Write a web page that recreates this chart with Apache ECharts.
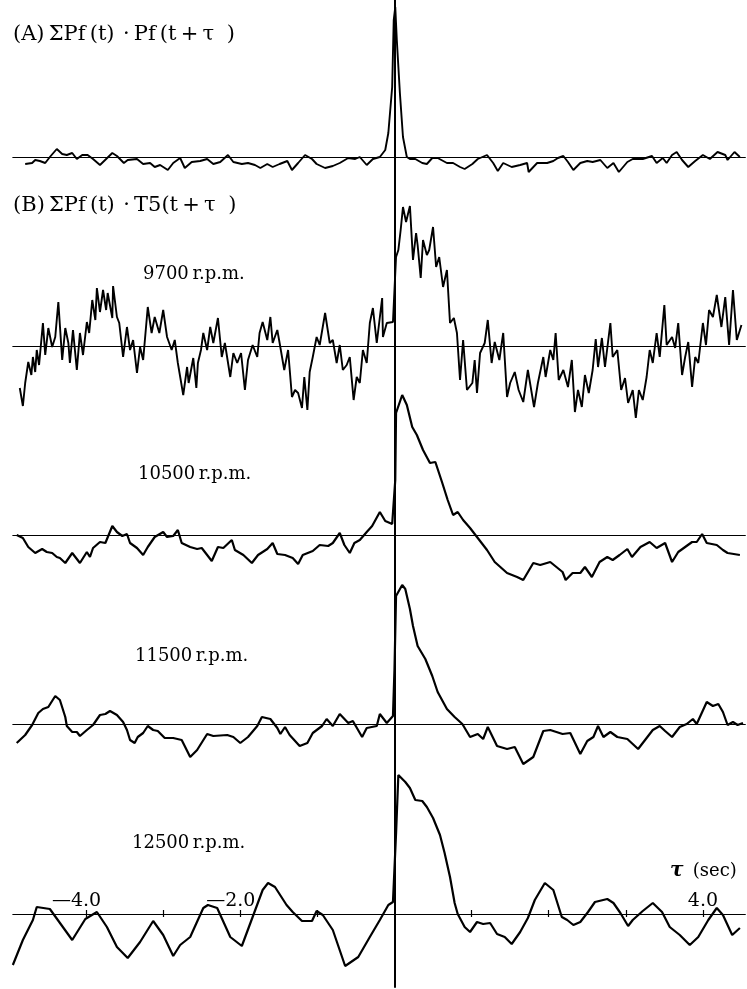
<!DOCTYPE html>
<html>
<head>
<meta charset="utf-8">
<script src="https://cdn.jsdelivr.net/npm/echarts@6/dist/echarts.min.js"></script>
<style>
html, body { margin: 0; padding: 0; background: #fff; }
#chart { width: 747px; height: 989px; }
</style>
</head>
<body>
<div id="chart"></div>
<script>
// tau (sec), correlation (arbitrary units)
const autoPf = [[-4.79,-7],[-4.70,-6],[-4.66,-3],[-4.60,-4],[-4.53,-6],[-4.47,0],[-4.38,8],[-4.31,3],[-4.25,2],[-4.18,4],[-4.12,-2],[-4.05,2],[-3.98,2],[-3.91,-2],[-3.82,-8],[-3.74,-2],[-3.66,4],[-3.60,1],[-3.51,-6],[-3.46,-3],[-3.34,-2],[-3.26,-7],[-3.17,-6],[-3.11,-10],[-3.04,-8],[-2.94,-13],[-2.87,-6],[-2.78,-1],[-2.72,-11],[-2.63,-5],[-2.52,-4],[-2.43,-2],[-2.35,-7],[-2.26,-5],[-2.16,2],[-2.09,-5],[-1.98,-7],[-1.90,-6],[-1.81,-8],[-1.74,-11],[-1.65,-7],[-1.58,-10],[-1.49,-7],[-1.39,-4],[-1.33,-13],[-1.25,-6],[-1.16,2],[-1.07,-2],[-1.01,-7],[-0.90,-11],[-0.80,-9],[-0.71,-6],[-0.60,-1],[-0.51,-2],[-0.45,0],[-0.36,-8],[-0.28,-2],[-0.19,0],[-0.12,7],[-0.08,24],[-0.03,70],[-0.01,137],[0.01,150],[0.03,117],[0.07,64],[0.11,20],[0.16,0],[0.20,-2],[0.27,-2],[0.36,-6],[0.42,-7],[0.49,-1],[0.56,-1],[0.68,-6],[0.76,-6],[0.85,-10],[0.91,-12],[1.01,-7],[1.08,-2],[1.20,2],[1.28,-6],[1.34,-14],[1.41,-6],[1.52,-10],[1.63,-8],[1.72,-6],[1.74,-15],[1.85,-6],[1.98,-6],[2.06,-4],[2.12,-1],[2.19,1],[2.25,-5],[2.32,-13],[2.41,-6],[2.50,-4],[2.57,-5],[2.67,-3],[2.76,-11],[2.84,-6],[2.91,-15],[3.02,-5],[3.09,-2],[3.22,-2],[3.34,1],[3.40,-6],[3.48,-1],[3.53,-6],[3.60,2],[3.66,5],[3.73,-3],[3.81,-10],[3.90,-4],[4.00,2],[4.09,-2],[4.19,5],[4.29,2],[4.32,-3],[4.41,5],[4.48,0]];

const rpm9700 = [[-4.86,-42],[-4.82,-60],[-4.79,-37],[-4.75,-16],[-4.71,-29],[-4.69,-11],[-4.66,-26],[-4.64,-4],[-4.61,-19],[-4.56,23],[-4.53,-9],[-4.49,18],[-4.44,-1],[-4.40,9],[-4.36,44],[-4.31,-14],[-4.27,18],[-4.23,3],[-4.21,-17],[-4.17,16],[-4.12,-24],[-4.08,13],[-4.04,-9],[-3.99,24],[-3.96,13],[-3.92,46],[-3.88,26],[-3.86,58],[-3.82,34],[-3.78,56],[-3.74,36],[-3.72,53],[-3.66,28],[-3.65,60],[-3.60,29],[-3.57,23],[-3.52,-11],[-3.47,19],[-3.43,-4],[-3.39,6],[-3.34,-27],[-3.30,-1],[-3.26,-14],[-3.20,39],[-3.15,13],[-3.11,29],[-3.05,13],[-3.00,36],[-2.95,9],[-2.89,-4],[-2.85,6],[-2.81,-17],[-2.74,-49],[-2.69,-21],[-2.67,-37],[-2.61,-12],[-2.57,-42],[-2.55,-17],[-2.51,-4],[-2.48,13],[-2.43,-4],[-2.39,19],[-2.35,3],[-2.29,28],[-2.24,-11],[-2.20,3],[-2.13,-31],[-2.09,-7],[-2.04,-17],[-1.99,-7],[-1.94,-44],[-1.90,-14],[-1.84,1],[-1.78,-11],[-1.75,13],[-1.71,24],[-1.65,6],[-1.61,29],[-1.58,3],[-1.52,16],[-1.49,3],[-1.43,-24],[-1.38,-4],[-1.33,-51],[-1.29,-44],[-1.25,-47],[-1.20,-62],[-1.17,-31],[-1.13,-64],[-1.10,-26],[-1.06,-11],[-1.01,9],[-0.97,1],[-0.90,33],[-0.84,3],[-0.80,6],[-0.75,-17],[-0.71,1],[-0.67,-24],[-0.62,-19],[-0.58,-11],[-0.53,-54],[-0.49,-31],[-0.45,-37],[-0.41,-4],[-0.36,-17],[-0.32,23],[-0.28,38],[-0.23,3],[-0.16,48],[-0.15,9],[-0.10,23],[-0.02,24],[0.02,89],[0.05,96],[0.08,116],[0.11,139],[0.15,124],[0.20,140],[0.24,86],[0.28,113],[0.30,101],[0.34,68],[0.37,106],[0.42,91],[0.45,96],[0.50,119],[0.54,79],[0.58,89],[0.63,59],[0.68,76],[0.72,23],[0.77,28],[0.81,13],[0.85,-34],[0.89,6],[0.94,-44],[1.01,-37],[1.04,-14],[1.07,-47],[1.11,-7],[1.17,3],[1.21,26],[1.26,-17],[1.30,4],[1.36,-14],[1.41,13],[1.46,-51],[1.50,-37],[1.56,-26],[1.61,-44],[1.67,-56],[1.73,-24],[1.81,-61],[1.86,-37],[1.93,-11],[1.96,-31],[2.02,-4],[2.06,-14],[2.09,13],[2.13,-34],[2.19,-24],[2.25,-41],[2.30,-14],[2.34,-66],[2.38,-44],[2.43,-61],[2.47,-29],[2.52,-47],[2.57,-24],[2.61,7],[2.64,-21],[2.69,8],[2.73,-21],[2.80,23],[2.83,-11],[2.89,-4],[2.94,-44],[2.99,-32],[3.03,-57],[3.09,-44],[3.13,-72],[3.17,-44],[3.22,-54],[3.27,-31],[3.31,-4],[3.35,-17],[3.40,13],[3.44,-11],[3.50,41],[3.53,1],[3.60,9],[3.64,-2],[3.68,23],[3.73,-29],[3.77,-11],[3.81,4],[3.86,-41],[3.90,-11],[3.94,-17],[4.00,23],[4.04,1],[4.08,36],[4.13,29],[4.18,51],[4.24,19],[4.29,49],[4.34,1],[4.39,56],[4.44,6],[4.50,21]];

const rpm10500 = [[-4.90,0],[-4.82,-3],[-4.75,-12],[-4.66,-18],[-4.57,-14],[-4.51,-17],[-4.44,-18],[-4.38,-22],[-4.34,-23],[-4.27,-28],[-4.18,-18],[-4.14,-22],[-4.08,-28],[-3.99,-17],[-3.95,-22],[-3.91,-13],[-3.82,-7],[-3.75,-8],[-3.66,9],[-3.60,3],[-3.53,-1],[-3.47,1],[-3.43,-8],[-3.34,-13],[-3.26,-20],[-3.20,-12],[-3.11,-2],[-3.00,3],[-2.95,-2],[-2.87,-1],[-2.81,5],[-2.76,-8],[-2.65,-12],[-2.56,-14],[-2.50,-13],[-2.46,-17],[-2.37,-26],[-2.29,-12],[-2.22,-13],[-2.11,-5],[-2.07,-15],[-1.96,-20],[-1.85,-28],[-1.77,-20],[-1.65,-14],[-1.58,-8],[-1.52,-19],[-1.42,-20],[-1.32,-23],[-1.25,-29],[-1.19,-20],[-1.06,-16],[-0.97,-10],[-0.86,-11],[-0.80,-8],[-0.71,2],[-0.65,-10],[-0.58,-18],[-0.52,-8],[-0.45,-5],[-0.36,3],[-0.29,9],[-0.19,23],[-0.12,14],[-0.03,11],[0.01,55],[0.02,122],[0.10,140],[0.16,130],[0.23,108],[0.29,100],[0.37,85],[0.46,72],[0.53,73],[0.62,52],[0.69,35],[0.76,20],[0.82,23],[0.89,15],[0.98,7],[1.07,-2],[1.20,-15],[1.30,-27],[1.46,-38],[1.59,-42],[1.67,-45],[1.80,-28],[1.89,-30],[2.02,-27],[2.18,-37],[2.22,-45],[2.31,-38],[2.41,-38],[2.47,-32],[2.56,-42],[2.66,-27],[2.76,-22],[2.83,-25],[2.92,-20],[3.02,-14],[3.08,-22],[3.19,-12],[3.31,-7],[3.40,-13],[3.51,-8],[3.60,-27],[3.68,-17],[3.77,-12],[3.86,-7],[3.92,-7],[3.99,1],[4.05,-8],[4.18,-10],[4.26,-15],[4.32,-18],[4.48,-20]];

const rpm11500 = [[-4.90,-19],[-4.79,-11],[-4.70,-1],[-4.62,11],[-4.56,15],[-4.49,17],[-4.40,28],[-4.34,24],[-4.27,7],[-4.25,-2],[-4.18,-8],[-4.12,-8],[-4.08,-12],[-3.99,-6],[-3.91,-1],[-3.82,9],[-3.75,10],[-3.69,13],[-3.60,9],[-3.52,2],[-3.47,-6],[-3.43,-16],[-3.37,-19],[-3.33,-13],[-3.26,-9],[-3.20,-2],[-3.13,-6],[-3.07,-7],[-2.98,-14],[-2.87,-14],[-2.76,-16],[-2.65,-33],[-2.56,-26],[-2.43,-10],[-2.35,-12],[-2.17,-11],[-2.09,-13],[-2.00,-19],[-1.90,-13],[-1.78,-2],[-1.72,7],[-1.61,5],[-1.52,-4],[-1.48,-10],[-1.42,-3],[-1.36,-11],[-1.23,-22],[-1.13,-19],[-1.06,-9],[-0.94,-2],[-0.88,5],[-0.80,-2],[-0.71,10],[-0.60,1],[-0.54,3],[-0.42,-13],[-0.36,-4],[-0.23,-2],[-0.19,10],[-0.10,1],[-0.02,8],[0.00,55],[0.02,128],[0.10,139],[0.14,135],[0.20,115],[0.24,98],[0.30,78],[0.40,65],[0.49,48],[0.56,32],[0.68,15],[0.78,7],[0.88,0],[0.98,-13],[1.08,-10],[1.15,-15],[1.21,-3],[1.33,-22],[1.46,-25],[1.56,-23],[1.67,-40],[1.80,-33],[1.93,-7],[2.02,-6],[2.18,-10],[2.28,-9],[2.41,-30],[2.50,-17],[2.58,-13],[2.64,-2],[2.71,-13],[2.80,-8],[2.89,-13],[3.02,-15],[3.16,-25],[3.28,-13],[3.35,-6],[3.44,-2],[3.51,-7],[3.60,-13],[3.70,-3],[3.79,0],[3.87,5],[3.92,0],[4.05,22],[4.13,18],[4.20,20],[4.26,12],[4.32,-1],[4.39,2],[4.45,-1],[4.52,1]];

const rpm12500 = [[-4.95,-51],[-4.82,-26],[-4.69,-6],[-4.64,7],[-4.47,5],[-4.18,-26],[-4.01,-5],[-3.86,2],[-3.73,-13],[-3.60,-33],[-3.46,-44],[-3.30,-28],[-3.13,-7],[-3.00,-21],[-2.87,-42],[-2.78,-31],[-2.65,-23],[-2.48,6],[-2.42,9],[-2.30,6],[-2.13,-23],[-1.98,-32],[-1.84,-3],[-1.71,24],[-1.64,31],[-1.55,27],[-1.40,9],[-1.32,2],[-1.20,-7],[-1.07,-7],[-1.01,3],[-0.93,-1],[-0.80,-16],[-0.64,-52],[-0.47,-43],[-0.32,-23],[-0.19,-6],[-0.08,9],[-0.02,12],[0.02,80],[0.05,139],[0.07,141],[0.14,132],[0.20,126],[0.27,114],[0.36,113],[0.42,107],[0.50,96],[0.59,79],[0.65,61],[0.72,37],[0.78,11],[0.82,0],[0.91,-13],[0.98,-18],[1.07,-8],[1.15,-10],[1.24,-9],[1.33,-20],[1.43,-23],[1.52,-30],[1.63,-18],[1.73,-4],[1.82,14],[1.95,31],[2.06,24],[2.17,-3],[2.24,-6],[2.32,-11],[2.41,-8],[2.51,2],[2.60,12],[2.76,15],[2.84,11],[2.93,1],[3.03,-12],[3.09,-6],[3.22,3],[3.35,11],[3.47,2],[3.57,-13],[3.70,-21],[3.83,-31],[3.94,-23],[4.07,-6],[4.18,6],[4.26,-1],[4.38,-21],[4.48,-14]];

const traceNames = ['9700\u2009r.p.m.', '10500\u2009r.p.m.', '11500\u2009r.p.m.', '12500\u2009r.p.m.'];
const tauTicks = [-4, -3, -2, -1, 1, 2, 3, 4];
const tauLabels = [-4, -2, 4];

const serif = '"DejaVu Serif", "Liberation Serif", serif';
const tauMin = -4.95, tauMax = 4.55;
const gridLeft = 12.85, gridWidth = 732.45;

// one lane per trace, 1 unit = 1px vertically
const lanes = [
  { data: autoPf,   top: 0,   height: 190, min: -33, max: 157, width: 1.9 },
  { data: rpm9700,  top: 196, height: 230, min: -80, max: 150, width: 1.9 },
  { data: rpm10500, top: 375, height: 220, min: -60, max: 160, width: 2.2 },
  { data: rpm11500, top: 564, height: 220, min: -60, max: 160, width: 2.2 },
  { data: rpm12500, top: 754, height: 230, min: -70, max: 160, width: 2.2 },
];

const chart = echarts.init(document.getElementById('chart'));

const grid = lanes.map(l => ({ left: gridLeft, width: gridWidth, top: l.top, height: l.height }));
grid.push({ left: gridLeft, width: gridWidth, top: 0, height: 987 });   // zero line
grid.push({ left: gridLeft, width: gridWidth, top: 914, height: 20 });  // tau labels

const baseX = (gi) => ({
  type: 'value', gridIndex: gi, min: tauMin, max: tauMax,
  axisLine: { show: true, onZero: true, lineStyle: { color: '#000', width: 1.2 } },
  axisTick: { show: false },
  axisLabel: { show: false },
  splitLine: { show: false },
});

const xAxis = [baseX(0), baseX(1), baseX(2), baseX(3)];
// bottom lane: ticks crossing the line
xAxis.push(Object.assign(baseX(4), {
  position: 'bottom',
  axisLine: { show: false, onZero: true, onZeroAxisIndex: 4 },
  axisTick: { show: true, customValues: tauTicks, length: 3, lineStyle: { color: '#000', width: 1.2 } },
}));
xAxis.push(Object.assign(baseX(4), {
  position: 'top',
  axisLine: { show: true, onZero: true, onZeroAxisIndex: 4, lineStyle: { color: '#000', width: 1.2 } },
  axisTick: { show: true, customValues: tauTicks, length: 4, lineStyle: { color: '#000', width: 1.2 } },
}));
xAxis.push(Object.assign(baseX(5), { show: false }));
xAxis.push(Object.assign(baseX(6), {
  position: 'top',
  axisLine: { show: false, onZero: false },
  axisLabel: {
    show: true, customValues: tauLabels, margin: 3,
    color: '#000', fontFamily: serif, fontSize: 19,
    formatter: v => v < 0 ? '{neg|—' + Math.abs(v).toFixed(1) + '}' : v.toFixed(1),
    rich: { neg: { padding: [0, 19, 0, 0], color: '#000', fontFamily: serif, fontSize: 19 } },
  },
}));

const yAxis = lanes.map((l, i) => ({
  type: 'value', gridIndex: i, min: l.min, max: l.max, show: false,
}));
yAxis.push({
  type: 'value', gridIndex: 5, min: 0, max: 1,
  axisLine: { show: true, onZero: true, lineStyle: { color: '#000', width: 2 } },
  axisTick: { show: false }, axisLabel: { show: false }, splitLine: { show: false },
});
yAxis.push({ type: 'value', gridIndex: 6, min: 0, max: 1, show: false });

const series = lanes.map((l, i) => ({
  type: 'line', data: l.data,
  xAxisIndex: i, yAxisIndex: i,
  symbol: 'none', showSymbol: false,
  lineStyle: { color: '#000', width: l.width },
  emphasis: { disabled: true },
}));

const txt = (x, y, text, size, extra) => ({
  type: 'text', x: x, y: y,
  style: Object.assign({
    text: text, fill: '#000', fontFamily: serif, fontSize: size,
    verticalAlign: 'middle', align: 'left',
  }, extra || {}),
});

const option = {
  animation: false,
  textStyle: { fontFamily: serif },
  grid: grid,
  xAxis: xAxis,
  yAxis: yAxis,
  series: series,
  graphic: [
    txt(13, 35, '(A)\u2009ΣPf\u2009(t)\u2009\u2009·\u2009Pf\u2009(t\u2009+\u2009τ\u2009\u2009\u2009)', 21),
    txt(13, 206, '(B)\u2009ΣPf\u2009(t)\u2009\u2009·\u2009T5(t\u2009+\u2009τ\u2009\u2009\u2009)', 21),
    txt(143, 274, traceNames[0], 18),
    txt(138, 474, traceNames[1], 18),
    txt(135, 656, traceNames[2], 18),
    txt(132, 843, traceNames[3], 18),
    txt(670, 871, '{t|τ}\u2009 (sec)', 18, {
      rich: { t: { fontFamily: serif, fontSize: 20, fontStyle: 'italic', fontWeight: 'bold' } },
    }),
  ],
};
chart.setOption(option);
</script>
</body>
</html>
